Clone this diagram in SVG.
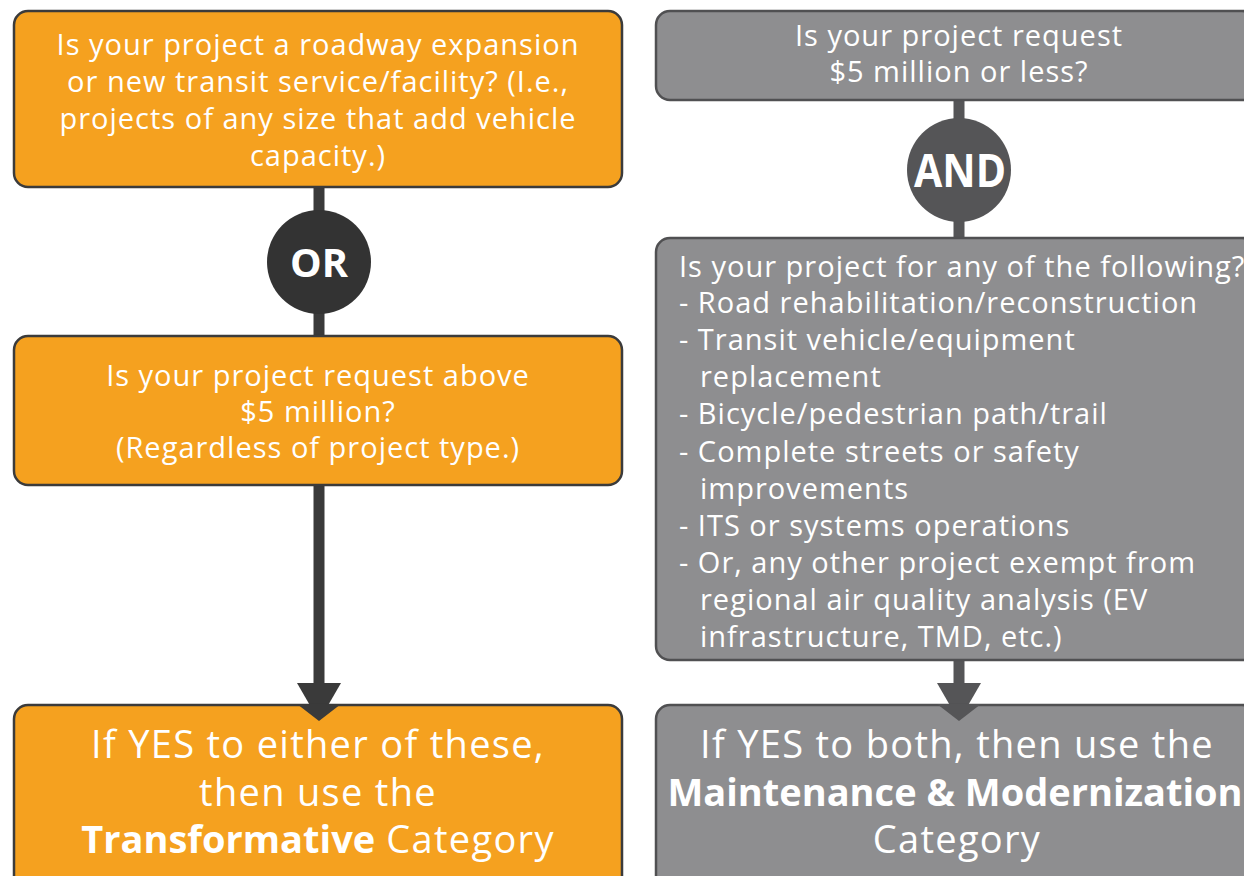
<svg xmlns="http://www.w3.org/2000/svg" width="1244" height="876" viewBox="0 0 1244 876">
<style>
.ob{fill:#f5a11f;stroke:#3b3b3b;stroke-width:2.5}
.gb{fill:#8e8e90;stroke:#505052;stroke-width:2.5}
.t{font-family:"Open Sans","Liberation Sans",sans-serif;fill:#ffffff;font-size:29px;letter-spacing:1px}
.c{text-anchor:middle}
.big{font-size:38px;letter-spacing:1.3px}
.b{font-weight:bold;letter-spacing:0}
</style>
<rect width="1244" height="876" fill="#ffffff"/>
<g id="connectors">
<line x1="319" y1="187" x2="319" y2="336" stroke="#3a3a3a" stroke-width="11"/>
<line x1="319" y1="485" x2="319" y2="690" stroke="#3a3a3a" stroke-width="11"/>
<polygon points="297,683 341,683 319,721" fill="#3a3a3a"/>
<line x1="959" y1="100" x2="959" y2="238" stroke="#555557" stroke-width="11"/>
<line x1="959" y1="660" x2="959" y2="690" stroke="#555557" stroke-width="11"/>
<polygon points="937,683 981,683 959,721" fill="#555557"/>
</g>
<g id="q1">
<rect class="ob" x="14" y="11" width="608" height="176" rx="14"/>
<text class="t c" x="318" y="55">Is your project a roadway expansion</text>
<text class="t c" x="318" y="92">or new transit service/facility? (I.e.,</text>
<text class="t c" x="318" y="129">projects of any size that add vehicle</text>
<text class="t c" x="318" y="166">capacity.)</text>
</g>
<g id="or">
<circle cx="319" cy="262" r="52" fill="#333333"/>
<text class="t c b" x="319" y="277" style="font-size:40px" textLength="58" lengthAdjust="spacingAndGlyphs">OR</text>
</g>
<g id="q2">
<rect class="ob" x="14" y="336" width="608" height="149" rx="14"/>
<text class="t c" x="318" y="386">Is your project request above</text>
<text class="t c" x="318" y="422">$5 million?</text>
<text class="t c" x="318" y="458">(Regardless of project type.)</text>
</g>
<g id="r-left">
<rect class="ob" x="14" y="705" width="608" height="185" rx="14"/>
<polygon points="297,704 341,704 319,721" fill="#3a3a3a"/>
<text class="t c big" x="318" y="758">If YES to either of these,</text>
<text class="t c big" x="318" y="806">then use the</text>
<text class="t c big" x="318" y="853"><tspan class="b">Transformative</tspan> Category</text>
</g>
<g id="q3">
<rect class="gb" x="656" y="11" width="600" height="89" rx="14"/>
<text class="t c" x="959" y="46">Is your project request</text>
<text class="t c" x="959" y="82">$5 million or less?</text>
</g>
<g id="and">
<circle cx="959" cy="170" r="52" fill="#555557"/>
<text class="t c b" x="960" y="187" style="font-size:46px" textLength="92" lengthAdjust="spacingAndGlyphs">AND</text>
</g>
<g id="q4">
<rect class="gb" x="656" y="238" width="600" height="422" rx="14"/>
<text class="t" x="679" y="277">Is your project for any of the following?</text>
<text class="t" x="679" y="313">- Road rehabilitation/reconstruction</text>
<text class="t" x="679" y="350">- Transit vehicle/equipment</text>
<text class="t" x="700" y="387">replacement</text>
<text class="t" x="679" y="424">- Bicycle/pedestrian path/trail</text>
<text class="t" x="679" y="462">- Complete streets or safety</text>
<text class="t" x="700" y="499">improvements</text>
<text class="t" x="679" y="536">- ITS or systems operations</text>
<text class="t" x="679" y="573">- Or, any other project exempt from</text>
<text class="t" x="700" y="610">regional air quality analysis (EV</text>
<text class="t" x="700" y="647">infrastructure, TMD, etc.)</text>
</g>
<g id="r-right">
<rect class="gb" x="656" y="705" width="600" height="185" rx="14"/>
<polygon points="937,704 981,704 959,721" fill="#555557"/>
<text class="t c big" x="957" y="758">If YES to both, then use the</text>
<text class="t c big b" x="955" y="806">Maintenance &amp; Modernization</text>
<text class="t c big" x="957" y="853">Category</text>
</g>
</svg>
